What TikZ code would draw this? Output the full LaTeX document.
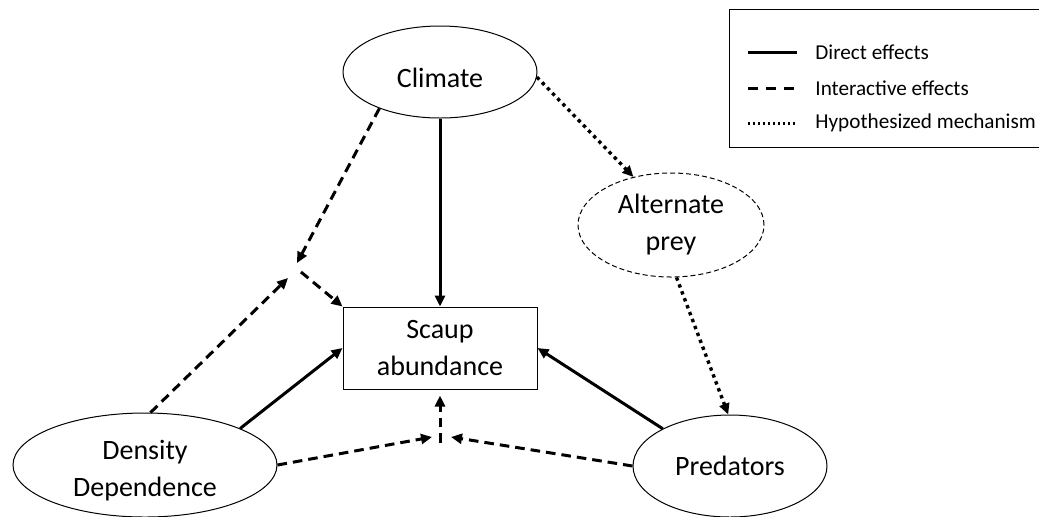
\documentclass[tikz,border=0pt]{standalone}
\usepackage{fontspec}
\setmainfont{Carlito}
\usetikzlibrary{arrows.meta,shapes.geometric}
\begin{document}
\begin{tikzpicture}[x=0.5pt,y=-0.5pt,
  nodefont/.style={font=\fontsize{14}{18.5}\selectfont},
  oval/.style={ellipse,draw,line width=0.5pt,inner sep=0pt,align=center,nodefont},
  box/.style={rectangle,draw,line width=0.5pt,inner sep=0pt,align=center,nodefont},
  inlabel/.style={inner sep=0pt,align=center,nodefont},
  tip/.style={-{Triangle[length=5.5pt,width=5pt]}},
  direct/.style={tip,line width=1.5pt},
  inter/.style={tip,line width=1.5pt,dash pattern=on 4.8pt off 3pt},
  hypo/.style={tip,line width=1.7pt,dash pattern=on 1.7pt off 2pt},
  legtext/.style={anchor=west,inner sep=0pt,font=\fontsize{10.6}{12}\selectfont}
]
\useasboundingbox (0,0) rectangle (1039,516);
% nodes
\node[oval,minimum width=97pt,minimum height=46pt,label={[inlabel,yshift=-3pt]center:Climate}] (climate) at (440,72) {};
\node[oval,dashed,dash pattern=on 2.5pt off 1.5pt,minimum width=93pt,minimum height=52pt] (altprey) at (671,225) {Alternate\\prey};
\node[box,minimum width=97pt,minimum height=41pt] (scaup) at (440,348) {Scaup\\abundance};
\node[oval,minimum width=132pt,minimum height=52pt,label={[inlabel,yshift=-3pt]center:Density\\Dependence}] (density) at (145,465) {};
\node[oval,minimum width=97pt,minimum height=51pt] (predators) at (730,466) {Predators};
% junctions
\coordinate (j1a) at (297,263);
\coordinate (j1b) at (288,278);
\coordinate (j1c) at (301,272);
\coordinate (j2l) at (432,437);
\coordinate (j2r) at (451,437);
\coordinate (j2u) at (440,443);
% direct
\draw[direct] (climate.south) -- (scaup.north);
\draw[direct] (density.21.8) -- (scaup.west);
\draw[direct] (predators.151.5) -- (scaup.east);
% interactive
\draw[inter] (climate.-149) -- (j1a);
\draw[inter] (density.84) -- (j1b);
\draw[inter] (j1c) -- (scaup.north west);
\draw[inter] (density.east) -- (j2l);
\draw[inter] (predators.west) -- (j2r);
\draw[inter,shorten >=3pt] (j2u) -- (scaup.south);
% hypothesized
\draw[hypo] (climate.-3.5) -- (altprey.128);
\draw[hypo] (altprey.-84.5) -- (predators.92);
% legend
\node[draw,line width=0.5pt,minimum width=160pt,minimum height=69pt,inner sep=0pt,anchor=north west] (legend) at (729,9) {};
\coordinate (l1a) at (748,52); \coordinate (l1b) at (797,52);
\coordinate (l2a) at (748,88); \coordinate (l2b) at (797,88);
\coordinate (l3a) at (748,123); \coordinate (l3b) at (797,123);
\draw[line width=1.5pt] (l1a) -- (l1b);
\draw[line width=1.5pt,dash pattern=on 4.8pt off 4.2pt] (l2a) -- (l2b);
\draw[line width=1.5pt,dash pattern=on 1pt off 1.5pt] (l3a) -- (l3b);
\node[legtext] (t1) at (815,52) {Direct effects};
\node[legtext] (t2) at (815,88) {Interactive effects};
\node[legtext] (t3) at (815,123) {Hypothesized mechanism};
\end{tikzpicture}
\end{document}
